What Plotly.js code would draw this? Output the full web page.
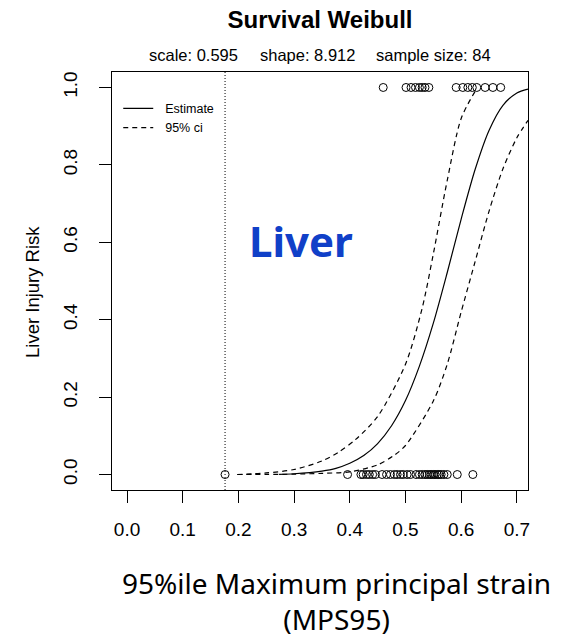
<!DOCTYPE html>
<html>
<head>
<meta charset="utf-8">
<script src="https://cdn.plot.ly/plotly-3.0.1.min.js"></script>
<style>
  html, body { margin: 0; padding: 0; background: #ffffff; }
  #chart { width: 570px; height: 638px; }
</style>
</head>
<body>
<div id="chart"></div>
<script>
// Observed MPS95 values: injured cases (risk 1) and non-injured cases (risk 0)
const injuredX = [0.460, 0.501, 0.510, 0.518, 0.525, 0.530, 0.535, 0.542,
                  0.591, 0.603, 0.612, 0.620, 0.628, 0.643, 0.657, 0.671];
const injuredY = injuredX.map(() => 1);

const uninjuredX = [0.176, 0.396, 0.420, 0.424, 0.430, 0.435, 0.441, 0.446,
                    0.458, 0.466, 0.473, 0.480, 0.485, 0.491, 0.496, 0.503,
                    0.509, 0.519, 0.525, 0.530, 0.535, 0.539, 0.543, 0.546,
                    0.550, 0.553, 0.557, 0.560, 0.564, 0.569, 0.575, 0.593, 0.621];
const uninjuredY = uninjuredX.map(() => 0);

// Estimated Weibull risk curve
const estX = [0.273, 0.30, 0.35, 0.375, 0.40, 0.425, 0.45, 0.475, 0.50, 0.525,
              0.55, 0.575, 0.60, 0.625, 0.65, 0.675, 0.70, 0.72];
const estY = [0.0005, 0.002, 0.009, 0.016, 0.029, 0.049, 0.080, 0.126, 0.191, 0.280,
              0.391, 0.522, 0.660, 0.788, 0.889, 0.954, 0.986, 0.996];

// 95% confidence bounds
const ciUpperX = [0.198, 0.25, 0.30, 0.35, 0.38, 0.41, 0.45, 0.50, 0.53, 0.55, 0.575, 0.60, 0.625];
const ciUpperY = [0.0, 0.004, 0.013, 0.035, 0.058, 0.090, 0.150, 0.285, 0.430, 0.570, 0.760, 0.920, 0.990];

const ciLowerX = [0.198, 0.25, 0.30, 0.35, 0.40, 0.45, 0.48, 0.50, 0.55, 0.575, 0.60,
                  0.625, 0.65, 0.675, 0.70, 0.72];
const ciLowerY = [0.0, 0.0003, 0.001, 0.003, 0.007, 0.025, 0.050, 0.075, 0.190, 0.285, 0.420,
                  0.550, 0.680, 0.790, 0.870, 0.915];

// Lowest observed strain (dotted reference line)
const minStrain = [0.176];

const xTicks = [0.0, 0.1, 0.2, 0.3, 0.4, 0.5, 0.6, 0.7];
const xTickText = ['0.0', '0.1', '0.2', '0.3', '0.4', '0.5', '0.6', '0.7'];
const yTicks = [0.0, 0.2, 0.4, 0.6, 0.8, 1.0];
const yTickText = ['0.0', '0.2', '0.4', '0.6', '0.8', '1.0'];

const baseFont = 'Liberation Sans, Arial, sans-serif';
const labelFont = 'Noto Sans, sans-serif';

const traces = [
  {
    x: estX, y: estY, type: 'scatter', mode: 'lines', name: '\u00a0\u00a0Estimate',
    line: { color: '#000', width: 1.2, shape: 'spline', smoothing: 0.8 },
    hoverinfo: 'skip'
  },
  {
    x: ciUpperX, y: ciUpperY, type: 'scatter', mode: 'lines', name: '\u00a0\u00a095% ci',
    line: { color: '#000', width: 1.2, dash: '5px,4px', shape: 'spline', smoothing: 0.8 },
    hoverinfo: 'skip'
  },
  {
    x: ciLowerX, y: ciLowerY, type: 'scatter', mode: 'lines', name: '95% ci lower',
    showlegend: false,
    line: { color: '#000', width: 1.2, dash: '5px,4px', shape: 'spline', smoothing: 0.8 },
    hoverinfo: 'skip'
  },
  {
    x: injuredX, y: injuredY, type: 'scatter', mode: 'markers', showlegend: false,
    marker: { symbol: 'circle-open', size: 8, color: '#000', line: { width: 1 } }
  },
  {
    x: uninjuredX, y: uninjuredY, type: 'scatter', mode: 'markers', showlegend: false,
    marker: { symbol: 'circle-open', size: 8, color: '#000', line: { width: 1 } }
  }
];

const axisCommon = {
  showgrid: false, zeroline: false,
  showline: true, mirror: true, linecolor: '#000', linewidth: 1,
  ticks: 'outside', ticklen: 12, tickwidth: 1, tickcolor: '#000',
  tickfont: { family: baseFont, size: 19, color: '#000' }
};

const layout = {
  width: 570, height: 638,
  paper_bgcolor: '#ffffff', plot_bgcolor: '#ffffff',
  margin: { l: 112, r: 42, t: 72, b: 148 },
  showlegend: true,
  legend: {
    x: 0.015, y: 0.948, xanchor: 'left', yanchor: 'top',
    bgcolor: 'rgba(0,0,0,0)', borderwidth: 0,
    font: { family: baseFont, size: 12.5, color: '#000' },
    itemwidth: 30, tracegroupgap: 0
  },
  title: {
    text: '<b>Survival Weibull</b>',
    font: { family: baseFont, size: 24, color: '#000' },
    x: 0.5, xref: 'paper', xanchor: 'center',
    y: 1 - 20 / 638, yref: 'container', yanchor: 'middle'
  },
  xaxis: Object.assign({}, axisCommon, {
    range: [-0.027, 0.72],
    tickvals: xTicks, ticktext: xTickText,
    ticklabelstandoff: 10
  }),
  yaxis: Object.assign({}, axisCommon, {
    range: [-0.04, 1.04],
    tickvals: yTicks, ticktext: yTickText,
    tickangle: -90,
    ticklabelstandoff: 14
  }),
  shapes: [
    {
      type: 'line', xref: 'x', yref: 'paper',
      x0: minStrain[0], x1: minStrain[0], y0: 0, y1: 1,
      line: { color: '#000', width: 1, dash: '1px,2px' }
    }
  ],
  annotations: [
    {
      text: 'scale: 0.595', xref: 'paper', yref: 'paper',
      x: (193.5 - 112) / 416, y: 1 + (72 - 55) / 418,
      xanchor: 'center', yanchor: 'middle', showarrow: false,
      font: { family: baseFont, size: 16.5, color: '#000' }
    },
    {
      text: 'shape: 8.912', xref: 'paper', yref: 'paper',
      x: (307 - 112) / 416, y: 1 + (72 - 55) / 418,
      xanchor: 'center', yanchor: 'middle', showarrow: false,
      font: { family: baseFont, size: 16.5, color: '#000' }
    },
    {
      text: 'sample size: 84', xref: 'paper', yref: 'paper',
      x: (433.5 - 112) / 416, y: 1 + (72 - 55) / 418,
      xanchor: 'center', yanchor: 'middle', showarrow: false,
      font: { family: baseFont, size: 16.5, color: '#000' }
    },
    {
      text: 'Liver Injury Risk', xref: 'paper', yref: 'paper',
      x: (32 - 112) / 416, y: (490 - 292) / 418,
      xanchor: 'center', yanchor: 'middle', textangle: -90, showarrow: false,
      font: { family: baseFont, size: 18.5, color: '#000' }
    },
    {
      text: '<b>Liver</b>', xref: 'paper', yref: 'paper',
      x: (301 - 112) / 416, y: (490 - 241) / 418,
      xanchor: 'center', yanchor: 'middle', showarrow: false,
      font: { family: labelFont, size: 42, color: '#1040c8' }
    },
    {
      text: '95%ile Maximum principal strain<br>(MPS95)', xref: 'paper', yref: 'paper',
      x: (336 - 112) / 416, y: (490 - 601) / 418,
      xanchor: 'center', yanchor: 'middle', showarrow: false, align: 'center',
      font: { family: labelFont, size: 28, color: '#000' }
    }
  ]
};

Plotly.newPlot('chart', traces, layout, { displayModeBar: false, staticPlot: true });
</script>
</body>
</html>
